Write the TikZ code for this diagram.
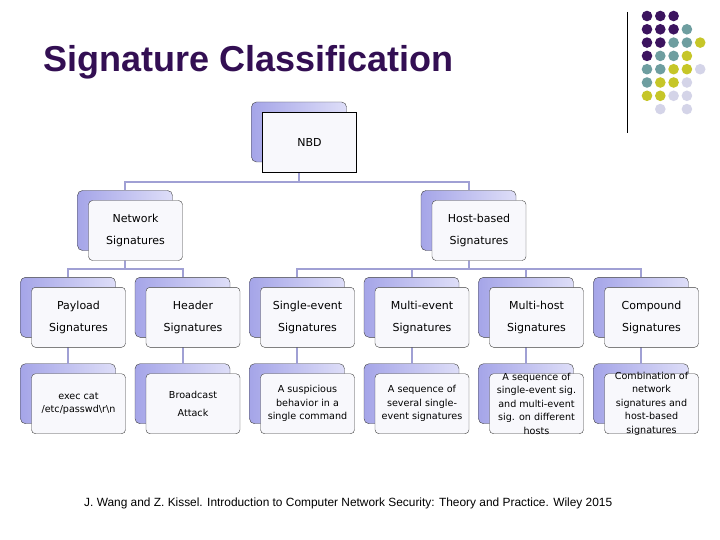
\documentclass[tikz,border=0pt]{standalone}
\usepackage{fontspec}
\setmainfont{Liberation Sans}
\newfontfamily\boxfont{DejaVu Sans}
\definecolor{titlec}{RGB}{51,15,83}
\definecolor{backl}{RGB}{165,165,232}
\definecolor{backr}{RGB}{222,222,248}
\definecolor{frontc}{RGB}{248,248,252}
\definecolor{linec}{RGB}{160,160,212}
\definecolor{dotp}{RGB}{60,20,95}
\definecolor{dott}{RGB}{110,158,160}
\definecolor{doty}{RGB}{198,198,40}
\definecolor{dotl}{RGB}{212,212,232}

\begin{document}
\begin{tikzpicture}[x=1pt, y=-1pt,
    back/.style={rectangle, draw=black!75, rounded corners=5pt, left color=backl, right color=backr, minimum width=95pt, minimum height=60pt, inner sep=0pt},
    front/.style={rectangle, draw=black!75, fill=frontc, rounded corners=4pt, minimum width=94pt, minimum height=60pt, inner sep=0pt, align=center, font=\boxfont\fontsize{11}{21.5}\selectfont},
    leaf/.style={front, inner xsep=1pt, inner ysep=-5pt, font=\boxfont\fontsize{9.6}{13.6}\selectfont},
    conn/.style={draw=linec, line width=2pt}
]
\useasboundingbox (0,0) rectangle (720,540);
\fill[white] (0,0) rectangle (720,540);

\node[anchor=base west, text=titlec, font=\fontsize{36}{40}\selectfont\bfseries, inner sep=0pt] (title) at (43,72) {Signature Classification};
\node[anchor=base west, font=\fontsize{11.9}{14}\selectfont, inner sep=0pt] (ref) at (84,506.5) {J. Wang and Z. Kissel. Introduction to Computer Network Security: Theory and Practice. Wiley 2015};

\draw[black, line width=1pt] (627,12) -- (627,133);
\foreach \c/\r/\col in {0/0/dotp,1/0/dotp,2/0/dotp,
    0/1/dotp,1/1/dotp,2/1/dotp,3/1/dott,
    0/2/dotp,1/2/dotp,2/2/dott,3/2/dott,4/2/doty,
    0/3/dotp,1/3/dott,2/3/dott,3/3/doty,
    0/4/dott,1/4/dott,2/4/doty,3/4/doty,4/4/dotl,
    0/5/dott,1/5/doty,2/5/doty,3/5/dotl,
    0/6/doty,1/6/doty,2/6/dotl,3/6/dotl,
    1/7/dotl,3/7/dotl}
  \fill[\col] (647+13.3*\c, 16+13.3*\r) circle (5.3pt);

\node[back] (nbdb) at (299,132) {};
\node[back] (netb) at (125,220.5) {};
\node[back] (hostb) at (468.5,220.5) {};
\node[back] (payb) at (68,307.3) {};
\node[back] (headb) at (182.5,307.3) {};
\node[back] (singb) at (297,307.3) {};
\node[back] (multib) at (411.5,307.3) {};
\node[back] (mhostb) at (526,307.3) {};
\node[back] (compb) at (641,307.3) {};
\node[back] (exb) at (68,393.7) {};
\node[back] (bcb) at (182.5,393.7) {};
\node[back] (susb) at (297,393.7) {};
\node[back] (seqb) at (411.5,393.7) {};
\node[back] (mseqb) at (526,393.7) {};
\node[back] (combb) at (641,393.7) {};

\draw[conn] (nbdb.south) -- ++(0,20) -| (netb.north);
\draw[conn] (nbdb.south) -- ++(0,20) -| (hostb.north);
\draw[conn] (netb.south) -- ++(0,18.5) -| (payb.north);
\draw[conn] (netb.south) -- ++(0,18.5) -| (headb.north);
\draw[conn] (hostb.south) -- ++(0,18.5) -| (singb.north);
\draw[conn] (hostb.south) -- ++(0,18.5) -| (multib.north);
\draw[conn] (hostb.south) -- ++(0,18.5) -| (mhostb.north);
\draw[conn] (hostb.south) -- ++(0,18.5) -| (compb.north);
\draw[conn] (payb.south) -- (exb.north);
\draw[conn] (headb.south) -- (bcb.north);
\draw[conn] (singb.south) -- (susb.north);
\draw[conn] (multib.south) -- (seqb.north);
\draw[conn] (mhostb.south) -- (mseqb.north);
\draw[conn] (compb.south) -- (combb.north);

\node[front, sharp corners, draw=black] (nbd) at ([shift={(10.5,10)}]nbdb) {NBD};
\node[front] (net) at ([shift={(10.5,10)}]netb) {Network\\Signatures};
\node[front] (host) at ([shift={(10.5,10)}]hostb) {Host-based\\Signatures};
\node[front] (pay) at ([shift={(10.5,10)}]payb) {Payload\\Signatures};
\node[front] (head) at ([shift={(10.5,10)}]headb) {Header\\Signatures};
\node[front] (sing) at ([shift={(10.5,10)}]singb) {Single-event\\Signatures};
\node[front] (multi) at ([shift={(10.5,10)}]multib) {Multi-event\\Signatures};
\node[front] (mhost) at ([shift={(10.5,10)}]mhostb) {Multi-host\\Signatures};
\node[front] (comp) at ([shift={(10.5,10)}]compb) {Compound\\Signatures};
\node[leaf] (ex) at ([shift={(10.5,10)}]exb) {exec cat\\/etc/passwd\textbackslash r\textbackslash n};
\node[leaf] (bc) at ([shift={(10.5,10)}]bcb) {Broadcast\\[4pt]Attack};
\node[leaf] (sus) at ([shift={(10.5,10)}]susb) {A suspicious\\behavior in a\\single command};
\node[leaf] (seq) at ([shift={(10.5,10)}]seqb) {A sequence of\\several single-\\event signatures};
\node[leaf] (mseq) at ([shift={(10.5,10)}]mseqb) {A sequence of\\single-event sig.\\and multi-event\\sig. on different\\hosts};
\node[leaf] (comb) at ([shift={(10.5,10)}]combb) {Combination of\\network\\signatures and\\host-based\\signatures};
\end{tikzpicture}
\end{document}
